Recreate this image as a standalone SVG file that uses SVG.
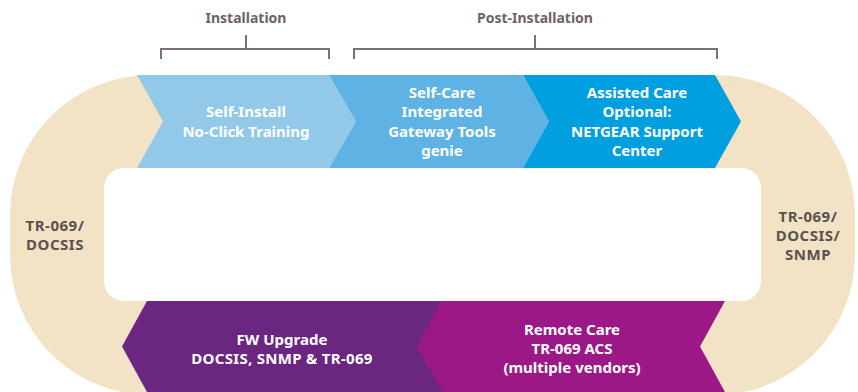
<svg xmlns="http://www.w3.org/2000/svg" width="858" height="392" viewBox="0 0 858 392">
<style>
.t{font-family:"Noto Sans","Open Sans","Liberation Sans",sans-serif;font-weight:700;font-size:15px;text-anchor:middle;fill:#ffffff}
.g{fill:#5b524f;letter-spacing:0.5px}
.h{fill:#6e6360;font-size:14px}
.br{fill:none;stroke:#7b706c;stroke-width:2}
</style>
<rect width="858" height="392" fill="#ffffff"/>
<g id="ring">
<rect x="10" y="75" width="845" height="320" rx="140" ry="140" fill="#f2e3c6"/>
<rect x="104" y="168" width="657" height="133" rx="20" ry="20" fill="#ffffff"/>
</g>
<g id="labels-left">
<text class="t g" x="55" y="231">TR-069/</text>
<text class="t g" x="55" y="250">DOCSIS</text>
</g>
<g id="labels-right">
<text class="t g" x="808" y="222">TR-069/</text>
<text class="t g" x="808" y="241">DOCSIS/</text>
<text class="t g" x="808" y="260">SNMP</text>
</g>
<g id="self-install">
<polygon points="137,75 329,75 356,121.5 329,168 137,168 163,121.5" fill="#93c9e8"/>
<text class="t" x="246" y="117">Self-Install</text>
<text class="t" x="246" y="137">No-Click Training</text>
</g>
<g id="self-care">
<polygon points="329,75 523,75 549,121.5 523,168 329,168 356,121.5" fill="#5eb3e4"/>
<text class="t" x="442" y="98">Self-Care</text>
<text class="t" x="442" y="117">Integrated</text>
<text class="t" x="442" y="137">Gateway Tools</text>
<text class="t" x="442" y="156">genie</text>
</g>
<g id="assisted-care">
<polygon points="523,75 715,75 741,121.5 715,168 523,168 549,121.5" fill="#009fdf"/>
<text class="t" x="637" y="98">Assisted Care</text>
<text class="t" x="637" y="117">Optional:</text>
<text class="t" x="637" y="137">NETGEAR Support</text>
<text class="t" x="637" y="156">Center</text>
</g>
<g id="fw-upgrade">
<polygon points="147,301 460,301 460,392 147,392 122,346.5" fill="#6b2682"/>
<text class="t" x="282" y="345">FW Upgrade</text>
<text class="t" x="282" y="364" letter-spacing="0.3">DOCSIS, SNMP &amp; TR-069</text>
</g>
<g id="remote-care">
<polygon points="441,301 725,301 700,346.5 725,392 443,392 417,346.5" fill="#9c1887"/>
<text class="t" x="572" y="335">Remote Care</text>
<text class="t" x="572" y="354">TR-069 ACS</text>
<text class="t" x="572" y="373">(multiple vendors)</text>
</g>
<g id="connectors">
<path class="br" d="M161,59 V49 H329 V59 M246,35 V49"/>
<path class="br" d="M354,59 V49 H717 V59 M535,35 V49"/>
</g>
<g id="phase-labels">
<text class="t h" x="246" y="23">Installation</text>
<text class="t h" x="535" y="23">Post-Installation</text>
</g>
</svg>
